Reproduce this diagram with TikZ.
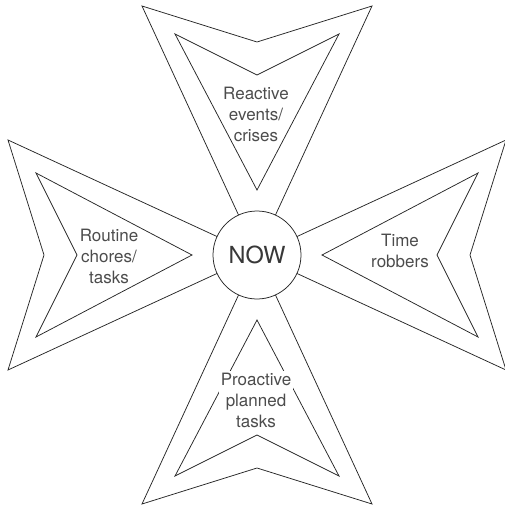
\documentclass[tikz,border=0pt]{standalone}
\usepackage{fontspec}
\setmainfont{TeX Gyre Heros}
\begin{document}
\begin{tikzpicture}[x=1pt,y=-1pt,
  armline/.style={draw=black!85, line width=0.75pt, line join=miter},
  lbl/.style={align=center, text=black!70, font=\fontsize{17}{21}\selectfont, inner sep=1pt},
  hub/.style={circle, draw=black!85, line width=0.75pt, fill=white, minimum size=88pt, inner sep=0pt, text=black!78, font=\fontsize{23.5}{27}\selectfont}]
\useasboundingbox (0,0) rectangle (504,508);
\coordinate (C) at (257,255);
\foreach \a in {0,90,180,270} {
  \begin{scope}[shift={(C)}, rotate=\a]
    \draw[armline] (0,0) -- (249,115) -- (213,0) -- (249,-115) -- cycle;
    \draw[armline] (65,0) -- (221,82) -- (180,0) -- (221,-82) -- cycle;
  \end{scope}
}
\node[hub] (now) at (C) {NOW};
\node[lbl] (top) at (256,114) {Reactive\\events/\\crises};
\node[lbl] (left) at (109,256) {Routine\\chores/\\tasks};
\node[lbl] (right) at (400,251) {Time\\robbers};
\node[lbl, fill=white, inner sep=2pt] (bottom) at (256,400) {Proactive\\planned\\tasks};
\end{tikzpicture}
\end{document}
